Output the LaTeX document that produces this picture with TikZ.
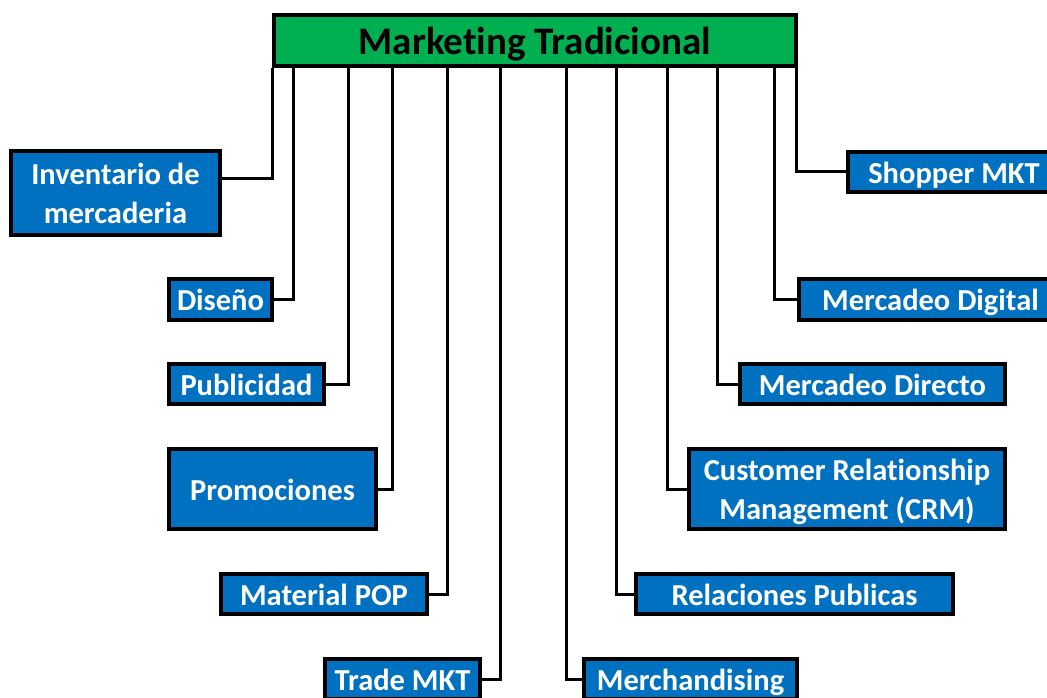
\documentclass[tikz,border=0pt]{standalone}
\usepackage{fontspec}
\setmainfont{Carlito}[Ligatures=NoCommon]
\definecolor{headgreen}{HTML}{00B050}
\definecolor{leafblue}{HTML}{0070C0}
\begin{document}
\begin{tikzpicture}[x=1pt,y=-1pt,
  box/.style={draw=black,line width=4pt,inner sep=0pt,align=center,
    text height=27.5pt,text depth=5.5pt,
    font=\bfseries\fontsize{30.5}{39}\selectfont},
  twoline/.style={text height=66.5pt},
  leaf/.style={box,fill=leafblue,text=white},
  head/.style={box,fill=headgreen,text=black,text height=35pt,text depth=6pt,
    font=\bfseries\fontsize{39}{47}\selectfont},
  link/.style={draw=black,line width=3pt}]
\useasboundingbox (0,0) rectangle (1047,698);
\clip (0,0) rectangle (1047,698);

% root
\node[head,minimum width=522pt,minimum height=51pt] (top) at (535,40.5) {Marketing Tradicional};

% left branch
\node[leaf,twoline,minimum width=209pt,minimum height=84pt] (inv) at (115.5,193) {Inventario de\\mercaderia};
\node[leaf,minimum width=103pt,minimum height=41pt] (dis) at (220.5,299.5) {Diseño};
\node[leaf,minimum width=155pt,minimum height=40pt] (pub) at (246.5,384) {Publicidad};
\node[leaf,minimum width=207pt,minimum height=80pt] (pro) at (272.5,489) {Promociones};
\node[leaf,minimum width=206pt,minimum height=40pt] (pop) at (324,594) {Material POP};
\node[leaf,minimum width=155pt,minimum height=40pt] (tra) at (402.5,679) {Trade MKT};

% right branch
\node[leaf,minimum width=213pt,minimum height=40pt] (mer) at (690.5,679) {Merchandising};
\node[leaf,minimum width=317pt,minimum height=40pt] (rel) at (794.5,594) {Relaciones Publicas};
\node[leaf,twoline,minimum width=316pt,minimum height=80pt] (crm) at (847,489) {Customer Relationship\\Management (CRM)};
\node[leaf,minimum width=265pt,minimum height=40pt] (dir) at (872.5,384) {Mercadeo Directo};
\node[leaf,minimum width=263pt,minimum height=41pt] (dig) at (930.5,299.5) {Mercadeo Digital};
\node[leaf,minimum width=212pt,minimum height=40pt] (sho) at (954,172) {Shopper MKT};

% elbow connectors from the root
\draw[link] (top.south west) |- ([yshift=15pt]inv.east);
\draw[link] ([xshift=21pt]top.south west) |- (dis.east);
\draw[link] ([xshift=76pt]top.south west) |- (pub.east);
\draw[link] ([xshift=120pt]top.south west) |- (pro.east);
\draw[link] ([xshift=175pt]top.south west) |- (pop.east);
\draw[link] ([xshift=228pt]top.south west) |- (tra.east);
\draw[link] ([xshift=294pt]top.south west) |- (mer.west);
\draw[link] ([xshift=344pt]top.south west) |- (rel.west);
\draw[link] ([xshift=395pt]top.south west) |- (crm.west);
\draw[link] ([xshift=445pt]top.south west) |- (dir.west);
\draw[link] ([xshift=502pt]top.south west) |- (dig.west);
\draw[link] ([xshift=-1.5pt]top.south east) |- (sho.west);
\end{tikzpicture}
\end{document}
